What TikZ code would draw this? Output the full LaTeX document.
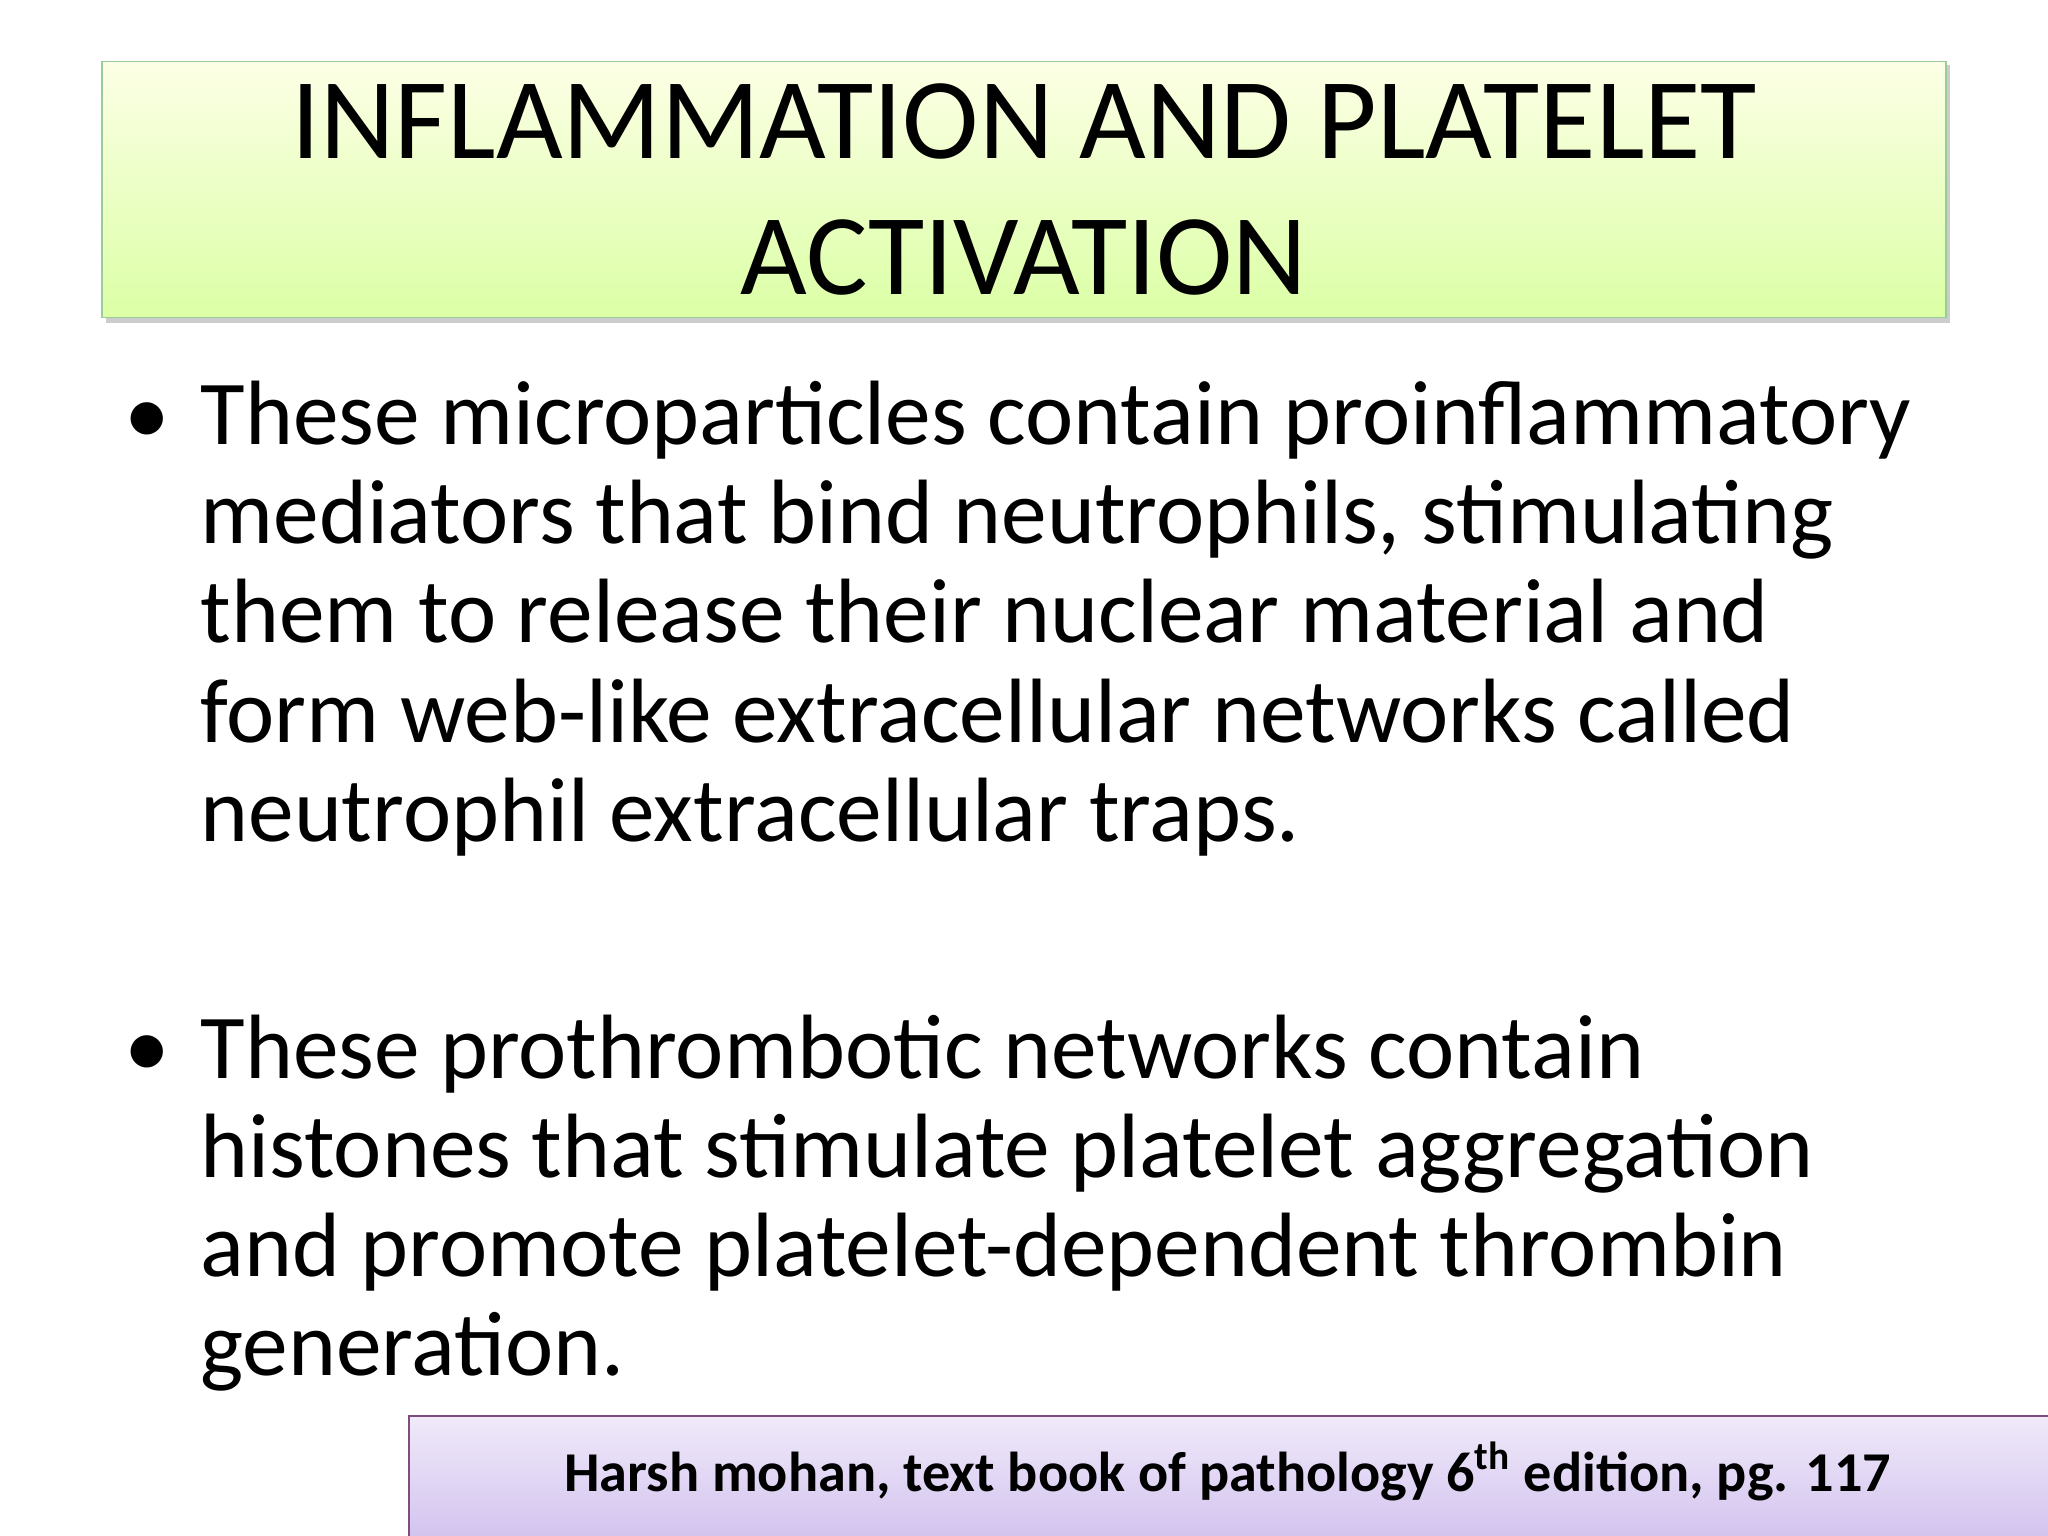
\documentclass[tikz,border=0pt]{standalone}
\usepackage{fontspec}
\setmainfont{Carlito}
\definecolor{lavtop}{HTML}{F0EAFA}
\definecolor{lavbot}{HTML}{D2C2EE}
\begin{document}
\begin{tikzpicture}[x=0.013061cm,y=-0.013061cm,
  body/.style={anchor=base west,inner sep=0,font=\fontsize{26}{28.2}\selectfont,align=left}]
\useasboundingbox (0,0) rectangle (1568,1176);
\fill[white] (0,0) rectangle (1568,1176);
\fill[gray!40] (81,50) rectangle (1493,247);
\shade[top color=green!10!yellow!10,bottom color=green!40!yellow!35,draw=green!50!black!40] (78,47) rectangle (1490,243);
\node[anchor=center,align=center,font=\fontsize{32.8}{38.5}\selectfont] (title) at (784,145) {INFLAMMATION AND PLATELET\\ACTIVATION};
\node[anchor=base west,inner sep=0,font=\fontsize{26}{28.2}\selectfont] (b1) at (95,340) {•};
\node[body] (t1) at (153,644) {These microparticles contain proinflammatory\\mediators that bind neutrophils, stimulating\\them to release their nuclear material and\\form web-like extracellular networks called\\neutrophil extracellular traps.};
\node[anchor=base west,inner sep=0,font=\fontsize{26}{28.2}\selectfont] (b2) at (95,825) {•};
\node[body] (t2) at (153,1053) {These prothrombotic networks contain\\histones that stimulate platelet aggregation\\and promote platelet-dependent thrombin\\generation.};
\shade[top color=lavtop,bottom color=lavbot,draw=violet!40!gray] (313,1084) rectangle (1575,1180);
\node[anchor=base,inner sep=0,font=\bfseries\fontsize{16}{19}\selectfont] (ref) at (940,1142) {Harsh mohan, text book of pathology 6\textsuperscript{th} edition, pg. 117};
\end{tikzpicture}
\end{document}
